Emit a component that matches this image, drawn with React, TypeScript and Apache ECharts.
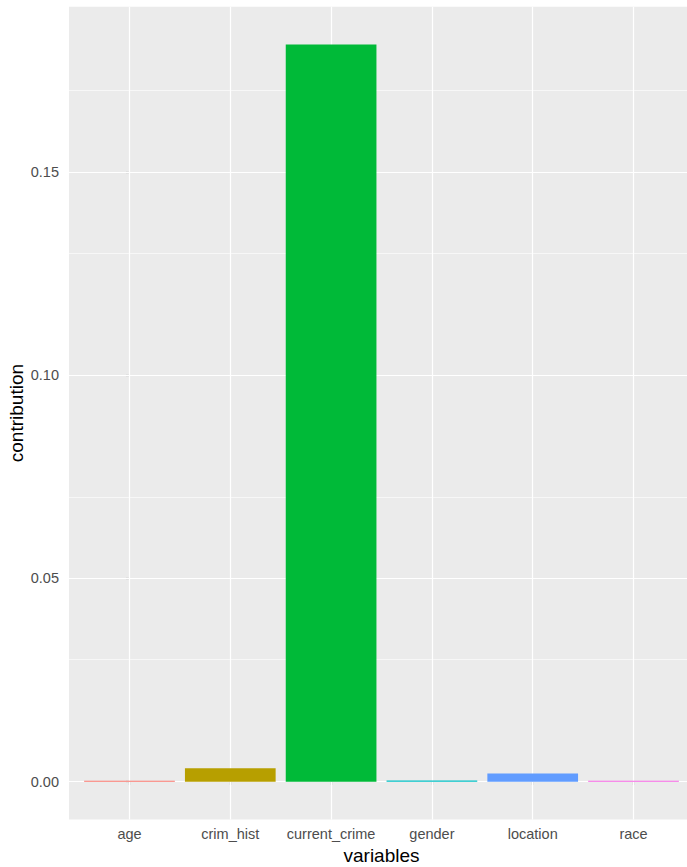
import React, { useEffect, useRef } from "react";
import * as echarts from "echarts";

const categories = ["age", "crim_hist", "current_crime", "gender", "location", "race"];
const contribution = [0.0002, 0.0033, 0.1813, 0.0003, 0.002, 0.0002];
const barColors = ["#F8766D", "#B79F00", "#00BA38", "#00BFC4", "#619CFF", "#F564E3"];
const yMajor = [0, 0.05, 0.1, 0.15];
const yMinor = [0.025, 0.075, 0.125, 0.175];

export default function App() {
  const ref = useRef<HTMLDivElement>(null);
  useEffect(() => {
    if (!ref.current) return;
    const chart = echarts.init(ref.current, null, { renderer: "svg" });
    const font = "'Liberation Sans', Arial, sans-serif";
    const positions = categories.map((_, i) => i);
    chart.setOption({
      animation: false,
      grid: {
        left: 69,
        top: 6.7,
        right: 0,
        bottom: 47.5,
        show: true,
        backgroundColor: "#EBEBEB",
        borderWidth: 0,
        containLabel: false,
        outerBoundsMode: "none",
      },
      xAxis: {
        type: "value",
        min: -0.6,
        max: categories.length - 1 + 0.6,
        name: "variables",
        nameLocation: "middle",
        nameGap: 25,
        nameTextStyle: { color: "#000", fontSize: 19, fontFamily: font },
        axisLine: { show: false },
        axisTick: { show: true, customValues: positions, length: 3.5, lineStyle: { color: "#333", width: 1.1 } },
        axisLabel: {
          customValues: positions,
          formatter: (v: number) => categories[Math.round(v)] ?? "",
          color: "#4D4D4D",
          fontSize: 14.5,
          fontFamily: font,
          margin: 7,
        },
        splitLine: { show: false },
      },
      yAxis: {
        type: "value",
        min: -0.0093,
        max: 0.1906,
        name: "contribution",
        nameLocation: "middle",
        nameGap: 43,
        nameMoveOverlap: false,
        nameRotate: 90,
        nameTextStyle: { color: "#000", fontSize: 19, fontFamily: font },
        axisLine: { show: false },
        axisTick: { show: true, length: 3.5, customValues: yMajor, lineStyle: { color: "#333", width: 1.1 } },
        axisLabel: {
          color: "#4D4D4D",
          fontSize: 14.5,
          fontFamily: font,
          margin: 10,
          customValues: yMajor,
          formatter: (v: number) => v.toFixed(2),
        },
        splitLine: { show: false },
      },
      series: [
        {
          type: "line",
          data: [],
          z: 1,
          silent: true,
          markLine: {
            silent: true,
            z: 1,
            symbol: ["none", "none"],
            label: { show: false },
            data: [
              ...yMinor.map((v) => ({ yAxis: v, lineStyle: { color: "#FFFFFF", width: 0.6, type: "solid" } })),
              ...yMajor.map((v) => ({ yAxis: v, lineStyle: { color: "#FFFFFF", width: 1.2, type: "solid" } })),
              ...positions.map((p) => ({ xAxis: p, lineStyle: { color: "#FFFFFF", width: 1.2, type: "solid" } })),
            ],
          },
        },
        {
          type: "bar",
          z: 10,
          barWidth: 90.7,
          data: contribution.map((v, i) => ({ value: [i, v], itemStyle: { color: barColors[i] } })),
        },
      ],
    });
    return () => chart.dispose();
  }, []);
  return (
    <div style={{ position: "absolute", left: 0, top: 0, width: 687, height: 867, overflow: "hidden" }}>
      <div ref={ref} style={{ width: 694, height: 867 }} />
    </div>
  );
}
